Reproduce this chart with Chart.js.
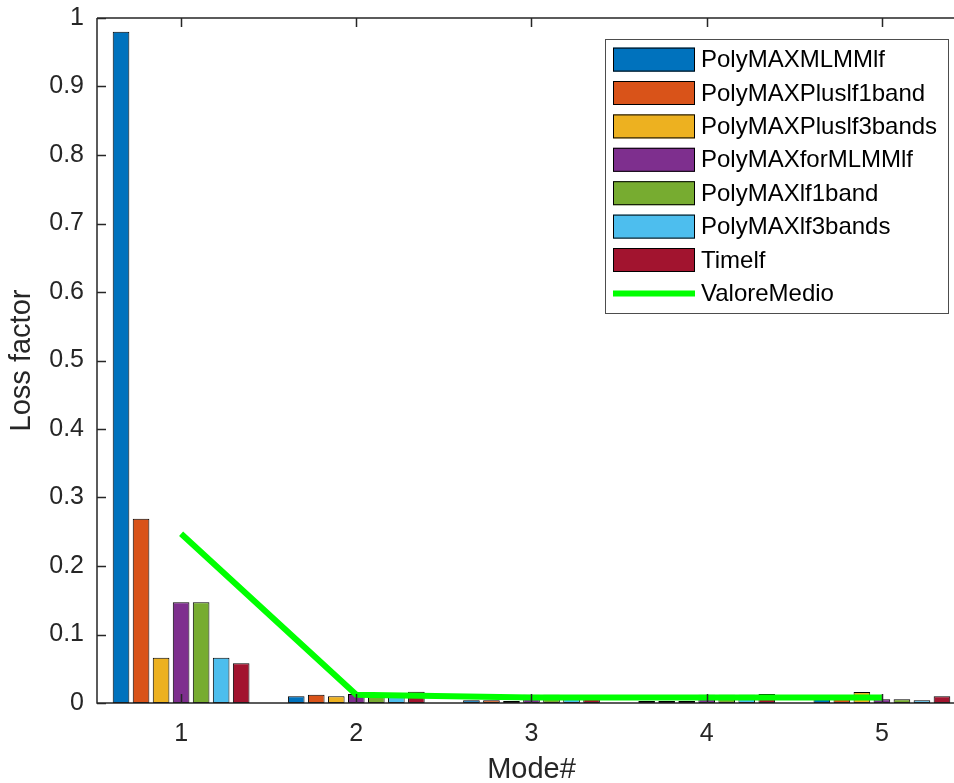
<!DOCTYPE html>
<html>
<head>
<meta charset="utf-8">
<title>Loss factor per mode</title>
<script src="https://cdn.jsdelivr.net/npm/chart.js@4.4.1/dist/chart.umd.min.js"></script>
<style>
  html, body { margin: 0; padding: 0; background: #ffffff; overflow: hidden; }
  /* the axes box runs slightly past the right edge of the visible frame */
  #wrap { width: 954px; height: 783px; overflow: hidden; }
</style>
</head>
<body>
<div id="wrap"><canvas id="chart" width="966" height="783"></canvas></div>
<script>
// Mode numbers (x positions of the bar groups)
const modes = [1, 2, 3, 4, 5];

// Loss factor estimated by each identification method, one value per mode
const polyMAXMLMMlf       = [0.980, 0.0097, 0.004, 0.003, 0.008];
const polyMAXPluslf1band  = [0.269, 0.012,  0.004, 0.003, 0.009];
const polyMAXPluslf3bands = [0.066, 0.0097, 0.003, 0.003, 0.016];
const polyMAXforMLMMlf    = [0.147, 0.013,  0.012, 0.012, 0.0054];
const polyMAXlf1band      = [0.147, 0.011,  0.012, 0.012, 0.0054];
const polyMAXlf3bands     = [0.066, 0.011,  0.011, 0.012, 0.004];
const timelf              = [0.058, 0.0165, 0.010, 0.013, 0.010];

// Mean value over all methods for each mode
const valoreMedio = [0.247, 0.012, 0.008, 0.008, 0.008];

// Axis ticks
const xTicks = [1, 2, 3, 4, 5];
const yTicks = [0, 0.1, 0.2, 0.3, 0.4, 0.5, 0.6, 0.7, 0.8, 0.9, 1];
const yTickLabels = ['0', '0.1', '0.2', '0.3', '0.4', '0.5', '0.6', '0.7', '0.8', '0.9', '1'];

const barSeries = [
  { label: 'PolyMAXMLMMlf',       values: polyMAXMLMMlf,       color: '#0072BD' },
  { label: 'PolyMAXPluslf1band',  values: polyMAXPluslf1band,  color: '#D95319' },
  { label: 'PolyMAXPluslf3bands', values: polyMAXPluslf3bands, color: '#EDB120' },
  { label: 'PolyMAXforMLMMlf',    values: polyMAXforMLMMlf,    color: '#7E2F8E' },
  { label: 'PolyMAXlf1band',      values: polyMAXlf1band,      color: '#77AC30' },
  { label: 'PolyMAXlf3bands',     values: polyMAXlf3bands,     color: '#4DBEEE' },
  { label: 'Timelf',              values: timelf,              color: '#A2142F' }
];

const FONT = '"Liberation Sans", Arial, Helvetica, sans-serif';
const AXIS_COLOR = '#262626';

const toPoints = vals => modes.map((m, i) => ({ x: m, y: vals[i] }));

const datasets = barSeries.map(s => ({
  type: 'bar',
  label: s.label,
  data: toPoints(s.values),
  backgroundColor: s.color,
  borderColor: '#000000',
  borderWidth: 1,
  borderSkipped: false,
  categoryPercentage: 0.8,
  barPercentage: 0.83,
  order: 1
}));

datasets.push({
  type: 'line',
  label: 'ValoreMedio',
  data: toPoints(valoreMedio),
  borderColor: '#00FF00',
  backgroundColor: '#00FF00',
  borderWidth: 6,
  pointRadius: 0,
  tension: 0,
  borderCapStyle: 'butt',
  order: 0
});

// Axis box lines, inward tick marks and the boxed legend, drawn over the data
const axesAndLegend = {
  id: 'axesAndLegend',
  afterDraw(chart, args, opts) {
    const { ctx, chartArea: a, scales: { x, y } } = chart;
    ctx.save();
    ctx.strokeStyle = AXIS_COLOR;
    ctx.lineWidth = 1.5;
    ctx.beginPath();
    ctx.moveTo(a.left, a.top);
    ctx.lineTo(a.left, a.bottom);
    ctx.lineTo(a.right, a.bottom);
    ctx.moveTo(a.left, a.top);
    ctx.lineTo(a.right, a.top);
    y.ticks.forEach(t => {
      const py = Math.round(y.getPixelForValue(t.value)) + 0.5;
      ctx.moveTo(a.left, py);
      ctx.lineTo(a.left + opts.tickLen, py);
    });
    x.ticks.forEach(t => {
      const px = Math.round(x.getPixelForValue(t.value)) + 0.5;
      ctx.moveTo(px, a.bottom);
      ctx.lineTo(px, a.bottom - opts.tickLen);
      ctx.moveTo(px, a.top);
      ctx.lineTo(px, a.top + opts.tickLen);
    });
    ctx.stroke();

    // Legend
    const L = opts.legend;
    ctx.fillStyle = '#ffffff';
    ctx.fillRect(L.left, L.top, L.right - L.left, L.bottom - L.top);
    ctx.strokeStyle = '#4d4d4d';
    ctx.lineWidth = 1;
    ctx.strokeRect(L.left + 0.5, L.top + 0.5, L.right - L.left, L.bottom - L.top);
    ctx.font = L.fontSize + 'px ' + FONT;
    ctx.textBaseline = 'middle';
    ctx.textAlign = 'left';
    chart.data.datasets.forEach((ds, i) => {
      const cy = L.firstRow + i * L.rowStep;
      if (ds.type === 'line') {
        ctx.strokeStyle = ds.borderColor;
        ctx.lineWidth = ds.borderWidth;
        ctx.beginPath();
        ctx.moveTo(L.swatchLeft, cy);
        ctx.lineTo(L.swatchRight, cy);
        ctx.stroke();
      } else {
        ctx.fillStyle = ds.backgroundColor;
        ctx.fillRect(L.swatchLeft, cy - L.swatchH / 2, L.swatchRight - L.swatchLeft, L.swatchH);
        ctx.strokeStyle = '#000000';
        ctx.lineWidth = 1;
        ctx.strokeRect(L.swatchLeft + 0.5, cy - L.swatchH / 2 + 0.5, L.swatchRight - L.swatchLeft - 1, L.swatchH - 1);
      }
      ctx.fillStyle = '#000000';
      ctx.fillText(ds.label, L.textLeft, cy + 1);
    });
    ctx.restore();
  }
};

new Chart(document.getElementById('chart'), {
  data: { datasets },
  options: {
    responsive: false,
    animation: false,
    layout: { padding: { top: 18, right: 0, left: 0, bottom: 0 } },
    font: { family: FONT },
    plugins: {
      legend: { display: false },
      tooltip: { enabled: false },
      axesAndLegend: {
        tickLen: 9,
        legend: {
          left: 605, top: 39, right: 948, bottom: 313,
          firstRow: 59.6, rowStep: 33.4,
          swatchLeft: 613, swatchRight: 695, swatchH: 24,
          textLeft: 701, fontSize: 24
        }
      }
    },
    scales: {
      x: {
        type: 'linear',
        offset: false,
        min: 0.52,
        max: 5.48,
        afterBuildTicks: s => { s.ticks = xTicks.map(v => ({ value: v })); },
        afterFit: s => {
          s.height = 80;
          s.paddingLeft = 0; s.paddingRight = 0;
        },
        grid: { display: false, drawTicks: false },
        border: { display: false },
        ticks: {
          color: AXIS_COLOR,
          font: { family: FONT, size: 25 },
          padding: 16,
          callback: v => String(v)
        },
        title: {
          display: true,
          text: 'Mode#',
          color: AXIS_COLOR,
          font: { family: FONT, size: 29 },
          padding: { top: 0, bottom: -4 }
        }
      },
      y: {
        type: 'linear',
        min: 0,
        max: 1,
        afterBuildTicks: s => { s.ticks = yTicks.map(v => ({ value: v })); },
        afterFit: s => {
          s.width = 97;
          s.paddingTop = 0; s.paddingBottom = 0;
        },
        grid: { display: false, drawTicks: false },
        border: { display: false },
        ticks: {
          color: AXIS_COLOR,
          font: { family: FONT, size: 25 },
          padding: 13,
          callback: (v) => yTickLabels[yTicks.findIndex(t => Math.abs(t - v) < 1e-9)]
        },
        title: {
          display: true,
          text: 'Loss factor',
          color: AXIS_COLOR,
          font: { family: FONT, size: 29 },
          padding: { top: 5, bottom: 0 }
        }
      }
    }
  },
  plugins: [axesAndLegend]
});
</script>
</body>
</html>
